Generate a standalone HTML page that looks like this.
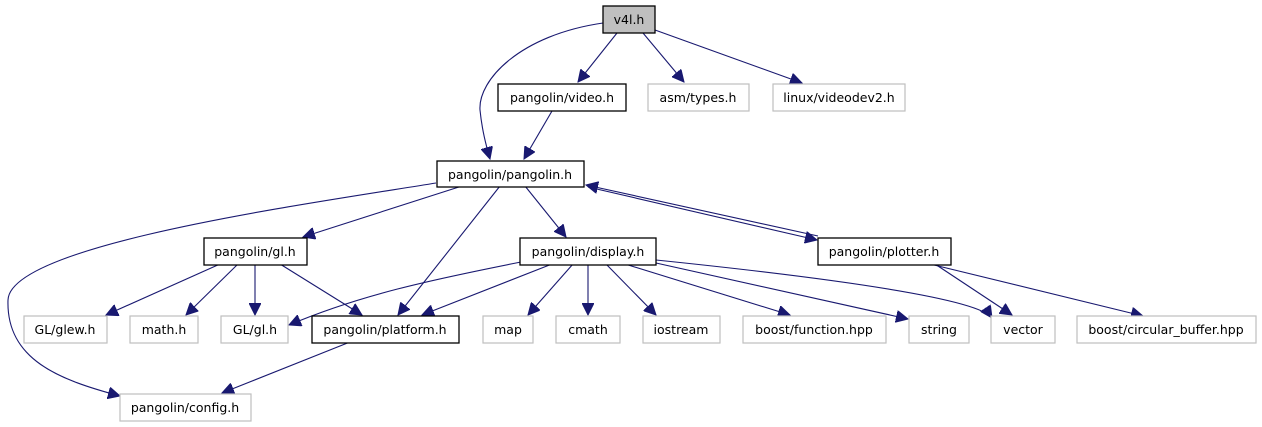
<!DOCTYPE html>
<html><head><meta charset="utf-8"><style>
html,body{margin:0;padding:0;background:#fff;}
svg{display:block;}
text{font-family:"DejaVu Sans","Liberation Sans",sans-serif;font-size:12.5px;text-anchor:middle;fill:#000;}
.e{fill:none;stroke:#191970;stroke-width:1.1;marker-end:url(#a);}
.b{fill:#fff;stroke:#000;stroke-width:1.3;}
.g{fill:#fff;stroke:#bfbfbf;stroke-width:1.2;}
</style></head><body>
<svg width="1262" height="427" viewBox="0 0 1262 427" xmlns="http://www.w3.org/2000/svg">
<defs><marker id="a" markerUnits="userSpaceOnUse" markerWidth="13" markerHeight="12" refX="12" refY="6" orient="auto"><path d="M0,0 L12,6 L0,12 z" fill="#191970" stroke="#191970"/></marker></defs>
<path class="e" d="M603,23 C520,35 478,80 480,110 C482,130 486,145 490,159"/>
<path class="e" d="M617,33 L578,82"/>
<path class="e" d="M643,33 L684,82"/>
<path class="e" d="M655,30 L802,83"/>
<path class="e" d="M552,111 L524,159"/>
<path class="e" d="M436,183 C300,205 10,245 8,300 C6,360 60,380 120,396"/>
<path class="e" d="M462,186 L303,237"/>
<path class="e" d="M500,186 L398,315"/>
<path class="e" d="M525,186 L566,237"/>
<path class="e" d="M588,187 L817,240"/>
<path class="e" d="M818,236 L586,185"/>
<path class="e" d="M220,264 L106,315"/>
<path class="e" d="M238,264 L186,315"/>
<path class="e" d="M255,264 L255,315"/>
<path class="e" d="M280,264 L362,315"/>
<path class="e" d="M521,262 C430,280 360,295 289,325"/>
<path class="e" d="M552,264 L422,315"/>
<path class="e" d="M573,264 L528,315"/>
<path class="e" d="M588,264 L588,315"/>
<path class="e" d="M606,264 L656,315"/>
<path class="e" d="M625,264 L790,315"/>
<path class="e" d="M656,263 L908,319"/>
<path class="e" d="M656,260 C850,280 980,300 992,318"/>
<path class="e" d="M935,264 L1012,315"/>
<path class="e" d="M930,264 L1143,316"/>
<path class="e" d="M350,342 L222,393"/>
<rect x="603" y="6" width="52" height="27" fill="#bfbfbf" stroke="#000" stroke-width="1.3"/><text x="629" y="24">v4l.h</text>
<rect class="b" x="498" y="84" width="128" height="27"/><text x="562" y="102">pangolin/video.h</text>
<rect class="g" x="648" y="84" width="101" height="27"/><text x="698" y="102">asm/types.h</text>
<rect class="g" x="773" y="84" width="132" height="27"/><text x="839" y="102">linux/videodev2.h</text>
<rect class="b" x="437" y="161" width="147" height="26"/><text x="510" y="179">pangolin/pangolin.h</text>
<rect class="b" x="204" y="238" width="103" height="27"/><text x="255" y="256">pangolin/gl.h</text>
<rect class="b" x="520" y="238" width="136" height="27"/><text x="588" y="256">pangolin/display.h</text>
<rect class="b" x="818" y="238" width="133" height="27"/><text x="884" y="256">pangolin/plotter.h</text>
<rect class="g" x="24" y="316" width="83" height="27"/><text x="65" y="334">GL/glew.h</text>
<rect class="g" x="130" y="316" width="68" height="27"/><text x="164" y="334">math.h</text>
<rect class="g" x="221" y="316" width="67" height="27"/><text x="255" y="334">GL/gl.h</text>
<rect class="b" x="312" y="316" width="147" height="27"/><text x="385" y="334">pangolin/platform.h</text>
<rect class="g" x="483" y="316" width="50" height="27"/><text x="508" y="334">map</text>
<rect class="g" x="556" y="316" width="64" height="27"/><text x="588" y="334">cmath</text>
<rect class="g" x="643" y="316" width="77" height="27"/><text x="681" y="334">iostream</text>
<rect class="g" x="743" y="316" width="143" height="27"/><text x="814" y="334">boost/function.hpp</text>
<rect class="g" x="909" y="316" width="60" height="27"/><text x="939" y="334">string</text>
<rect class="g" x="991" y="316" width="64" height="27"/><text x="1023" y="334">vector</text>
<rect class="g" x="1077" y="316" width="179" height="27"/><text x="1166" y="334">boost/circular_buffer.hpp</text>
<rect class="g" x="120" y="394" width="131" height="27"/><text x="185" y="412">pangolin/config.h</text>
</svg>
</body></html>
